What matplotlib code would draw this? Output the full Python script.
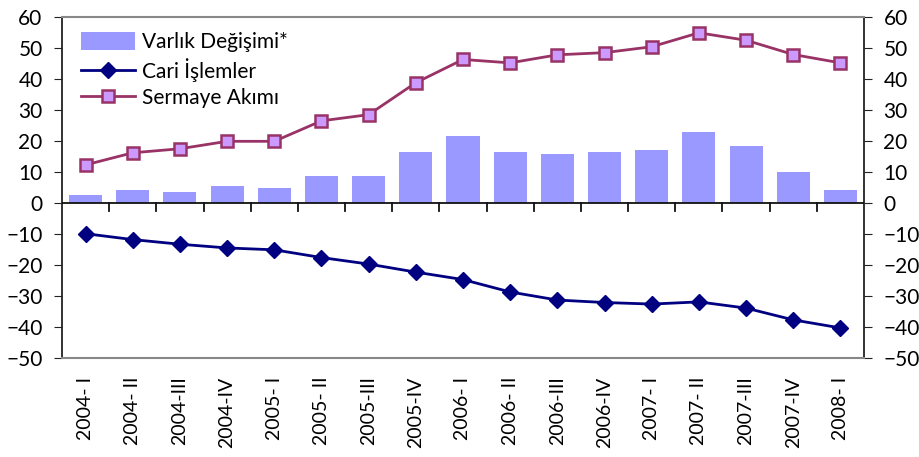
import matplotlib
matplotlib.use("Agg")
import matplotlib.pyplot as plt
import numpy as np

periods = ["2004- I", "2004- II", "2004-III", "2004-IV",
           "2005- I", "2005- II", "2005-III", "2005-IV",
           "2006- I", "2006- II", "2006-III", "2006-IV",
           "2007- I", "2007- II", "2007-III", "2007-IV",
           "2008- I"]
varlik = [2.5, 4.3, 3.6, 5.6, 4.9, 8.8, 8.8, 16.5, 21.7,
          16.5, 15.9, 16.5, 17.2, 23.0, 18.4, 10.1, 4.3]
cari = [-9.9, -11.8, -13.3, -14.5, -15.1, -17.6, -19.7, -22.3, -24.7,
        -28.7, -31.3, -32.1, -32.6, -31.9, -33.9, -37.7, -40.3]
sermaye = [12.3, 16.2, 17.5, 19.9, 19.9, 26.5, 28.5, 38.8, 46.3,
           45.2, 47.8, 48.5, 50.4, 54.9, 52.5, 47.9, 45.2]
yticks = [60, 50, 40, 30, 20, 10, 0, -10, -20, -30, -40, -50]

plt.rcParams['font.family'] = ['Lato', 'DejaVu Sans']

fig = plt.figure(figsize=(9.19, 4.57), dpi=100)
ax = fig.add_axes([62 / 919, 1 - 358 / 457, (864 - 62) / 919, (358 - 17) / 457])

x = np.arange(len(periods))
h_bar = ax.bar(x, varlik, width=0.7, color="#9999FF", label="Varlık Değişimi*", zorder=2)
h_cari, = ax.plot(x, cari, color="#000080", lw=2, marker="D", ms=8, mfc="#000080",
                  mec="#000080", label="Cari İşlemler", zorder=3)
h_serm, = ax.plot(x, sermaye, color="#993366", lw=2, marker="s", ms=8, mfc="#CC99FF",
                  mec="#993366", mew=1.8, label="Sermaye Akımı", zorder=3)

ax.set_xlim(-0.5, len(periods) - 0.5)
ax.set_ylim(-50, 60)
ax.set_yticks(yticks)
ax.tick_params(axis="y", which="both", left=True, right=True, labelleft=True,
               labelright=True, direction="out", length=6, labelsize=15, pad=8,
               color="#222222")

# zero line with category separators
ax.axhline(0, color="#111111", lw=1.3, zorder=4)
ax.set_xticks([])
for b in np.arange(0.5, len(periods) - 0.5, 1):
    ax.plot([b, b], [0, -2.5], color="#111111", lw=1.3, zorder=4, clip_on=False)

# category labels below the plot
for xi, lab in zip(x, periods):
    ax.text(xi, -56, lab, rotation=90, ha="center", va="top", fontsize=14,
            transform=ax.transData, clip_on=False)

for side in ("top", "bottom"):
    ax.spines[side].set_color("#888888")
    ax.spines[side].set_linewidth(1.5)
for side in ("left", "right"):
    ax.spines[side].set_color("#222222")
    ax.spines[side].set_linewidth(1.3)

ax.legend([h_bar, h_cari, h_serm],
          ["Varlık Değişimi*", "Cari İşlemler", "Sermaye Akımı"],
          loc="upper left", bbox_to_anchor=(0.005, 0.998), frameon=False,
          fontsize=15, handlelength=2.6, handletextpad=0.35,
          labelspacing=0.28, borderaxespad=0.3, handleheight=0.9)

fig.savefig("out.png", dpi=100)
